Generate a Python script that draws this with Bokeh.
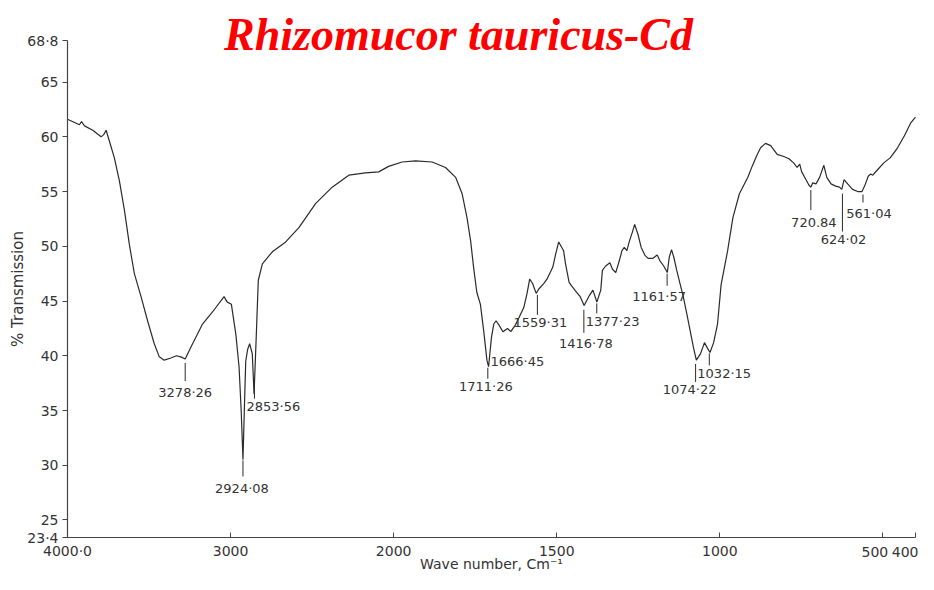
import numpy as np
from bokeh.plotting import figure
from bokeh.models import Range1d, FixedTicker, Label, ColumnDataSource
from bokeh.embed import file_html
from bokeh.resources import INLINE
from bokeh.core.properties import value

# ---------------- data ----------------
wavenumber = [4000, 3927, 3914, 3896, 3845, 3794, 3778, 3763, 3743, 3713, 3682, 3651,
              3621, 3590, 3549, 3509, 3468, 3437, 3407, 3366, 3332, 3305, 3278, 3243,
              3172, 3111, 3040, 3020, 2995, 2968, 2948, 2935, 2924, 2912, 2907, 2895,
              2883, 2867, 2856, 2842, 2830, 2805, 2744, 2662, 2581, 2479, 2377, 2275,
              2173, 2092, 2031, 1974, 1933, 1882, 1841, 1810, 1790, 1775, 1764, 1755,
              1745, 1734, 1724, 1714, 1709, 1700, 1693, 1686, 1677, 1665, 1651, 1641,
              1627, 1617, 1601, 1591, 1583, 1574, 1563, 1555, 1540, 1530, 1512, 1504,
              1494, 1479, 1473, 1462, 1455, 1439, 1428, 1416, 1402, 1389, 1377, 1365,
              1360, 1350, 1337, 1329, 1319, 1308, 1300, 1293, 1285, 1277, 1268, 1261,
              1251, 1241, 1230, 1220, 1205, 1192, 1184, 1172, 1161, 1155, 1148, 1141,
              1132, 1122, 1112, 1101, 1091, 1081, 1072, 1059, 1047, 1038, 1030, 1019,
              1007, 996, 976, 960, 940, 914, 901, 888, 875, 860, 844, 824, 804, 788,
              773, 763, 755, 749, 736, 727, 721, 715, 705, 694, 681, 672, 659, 645,
              633, 626, 619, 608, 593, 577, 564, 556, 545, 537, 531, 519, 498, 477,
              455, 434, 414, 400]
transmission = [61.6, 61.1, 61.4, 61.0, 60.6, 60.0, 60.2, 60.6, 59.6, 58.1, 56.0, 53.3,
                50.2, 47.5, 45.4, 43.2, 41.1, 39.9, 39.6, 39.8, 40.0, 39.9, 39.7, 40.8,
                42.9, 44.0, 45.4, 44.9, 44.7, 42.0, 39.0, 35.0, 30.5, 37.0, 39.5, 40.6,
                41.1, 40.2, 36.5, 42.0, 46.9, 48.4, 49.5, 50.4, 51.7, 53.9, 55.4, 56.5,
                56.7, 56.8, 57.3, 57.7, 57.8, 57.7, 57.2, 56.3, 54.8, 52.6, 50.5, 48.1,
                45.8, 44.7, 42.3, 39.6, 39.0, 41.7, 42.9, 43.2, 42.8, 42.2, 42.5, 42.2,
                42.8, 43.4, 44.4, 45.7, 47.0, 46.6, 45.7, 46.1, 46.6, 47.0, 48.1, 49.2,
                50.4, 49.6, 48.4, 46.7, 46.4, 45.8, 45.4, 44.6, 45.4, 46.0, 44.9, 46.0,
                47.8, 48.2, 48.5, 47.9, 47.6, 48.7, 49.6, 49.9, 49.6, 50.5, 51.3, 52.0,
                51.1, 49.9, 49.2, 48.9, 48.9, 49.2, 48.7, 48.2, 47.6, 49.0, 49.7, 49.0,
                47.8, 46.6, 45.4, 43.8, 42.3, 40.8, 39.6, 40.2, 41.2, 40.7, 40.3, 41.2,
                42.9, 46.5, 49.6, 52.6, 54.8, 56.3, 57.3, 58.2, 59.0, 59.4, 59.2, 58.4,
                58.2, 58.0, 57.6, 57.2, 57.5, 56.8, 56.1, 55.6, 55.4, 55.8, 55.7, 56.3,
                57.4, 56.3, 55.7, 55.5, 55.4, 55.2, 56.1, 55.7, 55.2, 55.0, 55.0, 55.5,
                56.4, 56.6, 56.5, 56.9, 57.6, 58.1, 59.0, 60.1, 61.3, 61.8]

peak_wn = [3278.26, 2924.08, 2853.56, 1711.26, 1666.45, 1559.31, 1416.78, 1377.23,
           1161.57, 1074.22, 1032.15, 720.84, 624.02, 561.04]
peak_text = ["3278·26", "2924·08", "2853·56", "1711·26", "1666·45", "1559·31", "1416·78",
             "1377·23", "1161·57", "1074·22", "1032·15", "720.84", "624·02", "561·04"]

x_tick_wn = [4000, 3000, 2000, 1500, 1000, 500, 400]
x_tick_labels = ["4000·0", "3000", "2000", "1500", "1000", "500", "400"]
y_ticks = [23.4, 25, 30, 35, 40, 45, 50, 55, 60, 65, 68.8]
y_tick_labels = ["23·4", "25", "30", "35", "40", "45", "50", "55", "60", "65", "68·8"]

# ---------------- layout of the peak annotations (pixels) ----------------
tick_gap = [4, 1, 2, 4, 0, 3.5, 5, 1.5, 1.5, 7, 2, 3, 7, 5]
tick_len = [18, 16, 13, 11, 0, 20, 23, 10, 12, 18, 12, 20, 38, 8]
lab_dx = [0, -1, -8, -2, -12, 3, 2, -11, -8, -6, -12, 3, 1, 6]
lab_dy = [11, 12, 8, 8, 31, 8, 11, 8, 11, 8, 8, 12, 8, 11]
lab_align = ["center", "center", "left", "center", "left", "center", "center", "left",
             "center", "center", "left", "center", "center", "center"]


def to_u(wn):
    """Chart abscissa: the scale doubles below 2000 cm-1."""
    wn = np.asarray(wn, dtype=float)
    return np.where(wn >= 2000, 4000 - wn, 2000 + 2 * (2000 - wn))


# canvas / placement of the axes box (pixels)
W, H = 918, 574
AX_L, AX_R, AX_T, AX_B = 67, 915, 40, 537
U0, U1 = 0.0, 5200.0
Y0, Y1 = 23.4, 68.8
sx = (AX_R - AX_L) / (U1 - U0)
sy = (AX_B - AX_T) / (Y1 - Y0)
x_range = Range1d(U0 - AX_L / sx, U1 + (W - AX_R) / sx)
y_range = Range1d(Y0 - (H - AX_B) / sy, Y1 + AX_T / sy)

INK = "#333333"
LINE = "#2a2a2a"
FONT = "DejaVu Sans"

p = figure(width=W, height=H, x_range=x_range, y_range=y_range,
           output_backend="svg", toolbar_location=None,
           min_border_left=0, min_border_right=0, min_border_top=0, min_border_bottom=0,
           background_fill_color="white", border_fill_color="white")
p.grid.visible = False
p.outline_line_color = None

# spectrum
wn_arr = np.array(wavenumber, dtype=float)
tr_arr = np.array(transmission, dtype=float)
p.line(to_u(wn_arr), tr_arr, line_color=LINE, line_width=1.2)

# peak markers
pk = np.array(peak_wn)
order = np.argsort(wn_arr)
curve_at_pk = np.interp(pk, wn_arr[order], tr_arr[order])
top = curve_at_pk - np.array(tick_gap) / sy
bot = top - np.array(tick_len) / sy
has_tick = np.array(tick_len) > 0
p.segment(x0=to_u(pk)[has_tick], y0=top[has_tick], x1=to_u(pk)[has_tick], y1=bot[has_tick],
          line_color=LINE, line_width=1)

for align in ("center", "left"):
    m = np.array([a == align for a in lab_align])
    src = ColumnDataSource(dict(x=to_u(pk)[m], y=bot[m],
                                t=[t for t, k in zip(peak_text, m) if k],
                                dx=np.array(lab_dx, float)[m], dy=np.array(lab_dy, float)[m]))
    p.text(x="x", y="y", text="t", x_offset="dx", y_offset="dy", source=src,
           text_align=align, text_baseline="middle", text_font=value(FONT),
           text_font_size="13px", text_color=INK)

# axes, placed at the data edges of the chart
xa = p.xaxis[0]
xa.fixed_location = Y0
xa.bounds = (U0, U1)
xu = [float(v) for v in to_u(x_tick_wn)]
xa.ticker = FixedTicker(ticks=xu)
# the two crowded right-hand labels are drawn below as texts so that they fit
n_axis = len(xu) - 2
xa.major_label_overrides = {u: (lab if i < n_axis else "")
                            for i, (u, lab) in enumerate(zip(xu, x_tick_labels))}
xa.major_tick_in = 5
xa.major_tick_out = 0
xa.minor_tick_line_color = None
xa.major_label_standoff = 5
xa.axis_label = "Wave number, Cm⁻¹"
xa.axis_label_standoff = -6
xa.axis_label_text_font = FONT
xa.axis_label_text_font_style = "normal"
xa.axis_label_text_font_size = "14px"
xa.axis_label_text_color = INK
xa.major_label_text_font = FONT
xa.major_label_text_font_size = "14px"
xa.major_label_text_color = INK
xa.axis_line_color = "#444444"
xa.major_tick_line_color = "#444444"
xa.axis_line_width = 1.2

edge_dx = [-8.0, 3.0]
edge_align = ["center", "right"]
for i in range(2):
    p.text(x=[xu[n_axis + i]], y=[Y0], text=[x_tick_labels[n_axis + i]],
           x_offset=edge_dx[i], y_offset=14,
           text_align=edge_align[i], text_baseline="middle",
           text_font=value(FONT), text_font_size="14px", text_color=INK)

ya = p.yaxis[0]
ya.fixed_location = U0
ya.bounds = (Y0, Y1)
ya.ticker = FixedTicker(ticks=y_ticks)
ya.major_label_overrides = {v: lab for v, lab in zip(y_ticks, y_tick_labels)}
ya.major_tick_in = 0
ya.major_tick_out = 5
ya.minor_tick_line_color = None
ya.major_label_standoff = 4
ya.axis_label = "% Transmission"
ya.axis_label_standoff = -3
ya.axis_label_text_font = FONT
ya.axis_label_text_font_style = "normal"
ya.axis_label_text_font_size = "15px"
ya.axis_label_text_color = INK
ya.major_label_text_font = FONT
ya.major_label_text_font_size = "14px"
ya.major_label_text_color = INK
ya.axis_line_color = "#444444"
ya.major_tick_line_color = "#444444"
ya.axis_line_width = 1.2

# title
title = Label(x=458, y=H - 34, x_units="screen", y_units="screen",
              text="Rhizomucor tauricus-Cd", text_align="center", text_baseline="alphabetic",
              text_font="Liberation Serif", text_font_style="bold italic",
              text_font_size="46px", text_color="#ff0000")
p.add_layout(title)

open("out.html", "w").write(file_html(p, INLINE))
